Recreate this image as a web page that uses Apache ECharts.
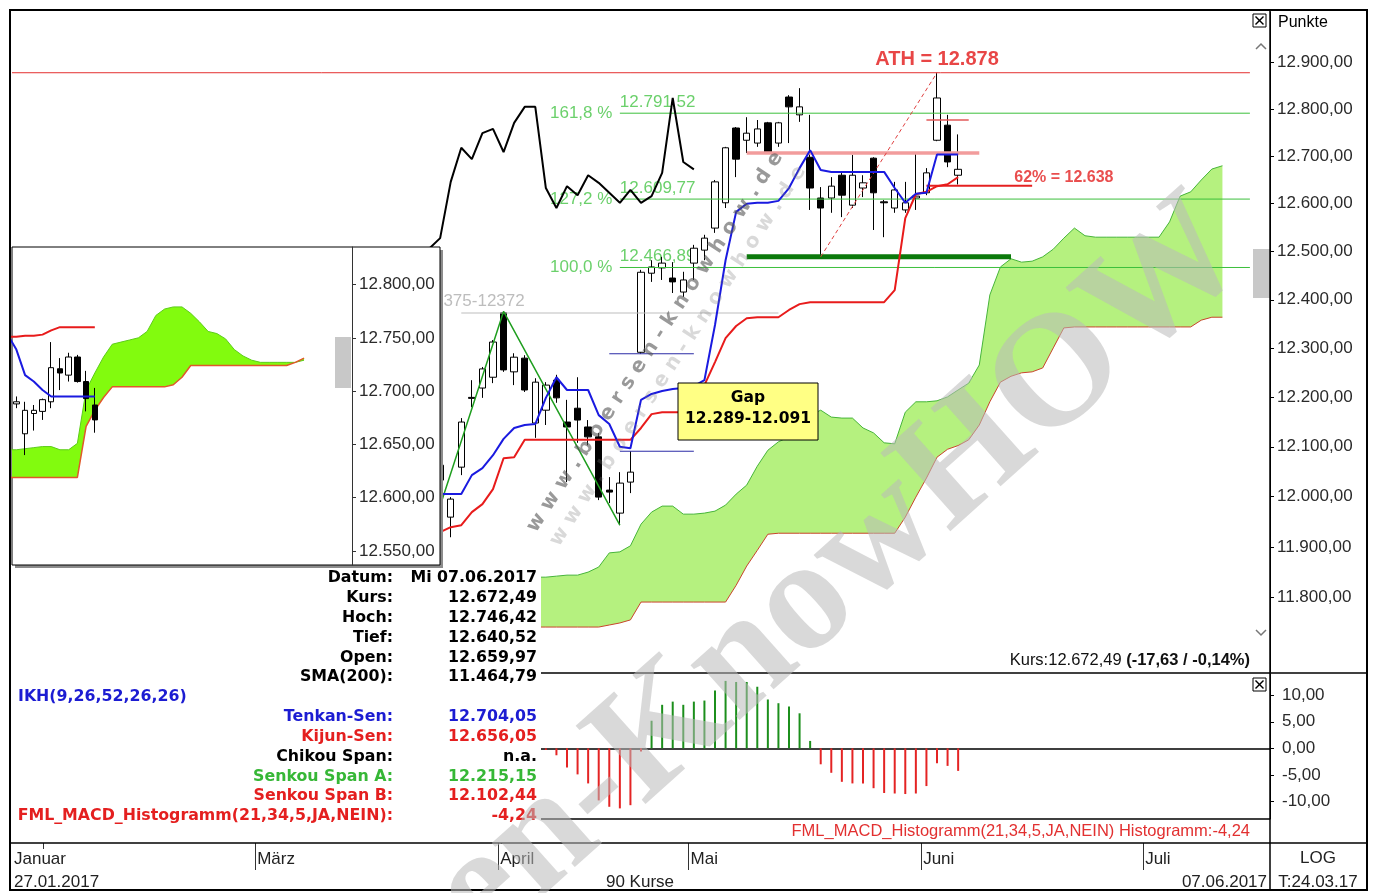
<!DOCTYPE html>
<html lang="de">
<head>
<meta charset="UTF-8">
<title>DAX – Ichimoku</title>
<style>
  html, body { margin: 0; padding: 0; background: #fff; }
  #main { width: 1373px; height: 893px; }
</style>
</head>
<body>
<div id="main"></div>
<script src="https://cdn.jsdelivr.net/npm/echarts/dist/echarts.min.js"></script>
<script>
// ---------- data: trading-day slot 0 = 27.01.2017, slot 89 = 07.06.2017 ----------
const slotCount = 119;              // 90 sessions + 26-day projection of the cloud
const candleStart = 40;
// [open, close, low, high]
const ohlc = [
  [12033, 12063, 12023, 12069], [11959, 11995, 11919, 11999], [12059, 12150, 12043, 12158],
  [12200, 12198, 12180, 12235], [12219, 12258, 12199, 12262], [12241, 12313, 12229, 12317],
  [12373, 12256, 12252, 12376], [12252, 12282, 12225, 12290], [12280, 12215, 12211, 12286],
  [12148, 12231, 12118, 12239], [12174, 12225, 12144, 12231], [12235, 12199, 12189, 12246],
  [12150, 12140, 12029, 12195], [12178, 12154, 12108, 12241], [12140, 12120, 12103, 12154],
  [12120, 11999, 11993, 12128], [12013, 12009, 11987, 12039], [11967, 12027, 11943, 12049],
  [12029, 12049, 12007, 12091], [12292, 12457, 12289, 12462], [12455, 12468, 12437, 12482],
  [12466, 12476, 12441, 12489], [12445, 12437, 12414, 12478], [12416, 12441, 12406, 12458],
  [12476, 12507, 12441, 12514], [12503, 12528, 12482, 12535], [12549, 12646, 12539, 12650],
  [12602, 12718, 12591, 12720], [12760, 12694, 12656, 12762], [12734, 12749, 12707, 12783],
  [12728, 12758, 12720, 12777], [12771, 12709, 12707, 12773], [12728, 12771, 12720, 12773],
  [12826, 12805, 12728, 12830], [12788, 12805, 12773, 12845], [12698, 12633, 12587, 12788],
  [12612, 12591, 12489, 12635], [12612, 12637, 12581, 12656], [12660, 12618, 12572, 12667],
  [12597, 12660, 12591, 12703], [12633, 12644, 12614, 12660], [12696, 12623, 12545, 12698],
  [12604, 12602, 12530, 12608], [12591, 12629, 12581, 12646], [12587, 12602, 12581, 12646],
  [12612, 12616, 12587, 12709], [12623, 12665, 12618, 12675], [12734, 12824, 12732, 12878],
  [12766, 12688, 12677, 12788], [12659.97, 12672.49, 12640.52, 12746.42]
];
const tenkan = [
  12005, 12005, 12005, 12043, 12057, 12083, 12116, 12138, 12144, 12146,
  12199, 12241, 12215, 12215, 12215, 12164, 12146, 12100, 12097, 12195,
  12207, 12213, 12217, 12219, 12223, 12235, 12348, 12482, 12583, 12600,
  12602, 12602, 12606, 12633, 12675, 12713, 12671, 12667, 12667, 12667,
  12667, 12667, 12667, 12633, 12602, 12621, 12623, 12704, 12704, 12704.05
];
const kijun = [
  11929, 11939, 11943, 11969, 11985, 12015, 12077, 12079, 12114, 12114,
  12114, 12114, 12114, 12114, 12114, 12114, 12114, 12114, 12114, 12138,
  12166, 12170, 12170, 12170, 12184, 12225, 12272, 12321, 12346, 12362,
  12364, 12364, 12364, 12379, 12391, 12395, 12395, 12395, 12395, 12395,
  12395, 12395, 12395, 12420, 12570, 12620, 12625, 12637, 12641, 12656.05
];
const chikouShift = 25;
const cloudStart = 49;
const spanA = [
  11840, 11840, 11842, 11844, 11844, 11850, 11860, 11888, 11890, 11902,
  11945, 11969, 11981, 11981, 11965, 11965, 11967, 11971, 11983, 12005,
  12023, 12061, 12093, 12110, 12120, 12148, 12164, 12174, 12160, 12158,
  12158, 12138, 12128, 12108, 12106, 12170, 12191, 12191, 12193, 12201,
  12215.15, 12229, 12266, 12410, 12468, 12485, 12478, 12480, 12489, 12505,
  12528, 12549, 12533, 12530, 12530, 12530, 12530, 12530, 12530, 12530,
  12562, 12616, 12625, 12650, 12673, 12680
];
const spanB = [
  11742, 11742, 11742, 11742, 11742, 11742, 11742, 11746, 11750, 11756,
  11791, 11791, 11791, 11791, 11791, 11791, 11791, 11791, 11791, 11824,
  11862, 11893, 11925, 11927, 11927, 11927, 11927, 11927, 11927, 11927,
  11927, 11927, 11927, 11927, 11927, 11959, 11999, 12037, 12079, 12095,
  12102.44, 12114, 12144, 12191, 12231, 12243, 12250, 12252, 12260, 12301,
  12342, 12344, 12344, 12344, 12344, 12344, 12344, 12344, 12344, 12344,
  12344, 12344, 12344, 12358, 12364, 12364
];
const macdStart = 50;
const macd = [
  -0.3, -1.3, -3.6, -4.9, -6.6, -9.8, -11.0, -11.3, -10.7, -0.6,
  5.2, 8.2, 8.8, 8.2, 8.8, 9.0, 10.9, 12.7, 12.5, 12.5,
  11.6, 9.2, 8.5, 7.9, 6.6, 1.4, -3.0, -4.6, -6.3, -6.6,
  -6.6, -7.5, -8.4, -8.5, -8.6, -8.5, -7.1, -2.8, -3.3, -4.24
];

// drawn levels: [fromSlot, toSlot, value]
const athLine = [-0.5, 116.6, 12878];
const fibLines = [[57, 116.6, 12791.52], [57, 116.6, 12609.77], [57, 116.6, 12466.89]];
const fibNames = ['161,8 %', '127,2 %', '100,0 %'];
const priorHigh = [42, 72, 12372.7];
const gapLines = [[56, 64, 12289], [57, 64, 12091]];
const supportLine = [69, 94, 12489];
const resistLine = [69, 91, 12707];
const highMark = [86, 90, 12777];
const retraceLine = [86, 96, 12638];
const zigzag = [[39, 11917], [46, 12376], [57, 11943]];
const athTrend = [[76, 12489], [87, 12878]];

const priceTicks = [11800, 11900, 12000, 12100, 12200, 12300, 12400, 12500, 12600, 12700, 12800, 12900];
const macdTicks = [-10, -5, 0, 5, 10];
const monthNames = ['Januar', 'März', 'April', 'Mai', 'Juni', 'Juli'];
const monthStart = [0, 23, 46, 64, 86, 107];
const febStart = 3;

// inset (zoomed chart, slot 0 = first candle)
const insetSlots = 39;
const insetStart = -1;
const insetCandles = [
  [12688, 12690, 12684, 12695], [12660, 12682, 12640, 12690], [12679, 12682, 12663, 12687],
  [12681, 12692, 12673, 12693], [12690, 12722, 12684, 12746], [12721, 12717, 12701, 12731],
  [12715, 12732, 12709, 12736], [12732, 12709, 12708, 12734], [12709, 12693, 12681, 12719],
  [12687, 12673, 12661, 12703]
];
const insetTenkan = [12753, 12739, 12715, 12709, 12701, 12695, 12695, 12695, 12695, 12695, 12695];
const insetKijun = [12751, 12751, 12752, 12752, 12753, 12757, 12760, 12760, 12760, 12760, 12760];
const insetSpanA = [
  12645, 12645, 12646, 12647, 12648, 12648, 12645, 12645, 12651, 12701,
  12717, 12732, 12744, 12746, 12748, 12750, 12756, 12771, 12777, 12779,
  12779, 12773, 12765, 12756, 12754, 12749, 12739, 12733, 12729, 12727,
  12727, 12727, 12727, 12727, 12729
];
const insetSpanB = [
  12619, 12619, 12619, 12619, 12619, 12619, 12619, 12619, 12619, 12667,
  12682, 12694, 12704, 12704, 12704, 12704, 12704, 12704, 12704, 12706,
  12713, 12724, 12724, 12724, 12724, 12724, 12724, 12724, 12724, 12724,
  12724, 12724, 12724, 12727, 12731
];
const insetTicks = [12550, 12600, 12650, 12700, 12750, 12800];

const infoLabels = ['Datum:', 'Kurs:', 'Hoch:', 'Tief:', 'Open:', 'SMA(200):', 'IKH(9,26,52,26,26)',
  'Tenkan-Sen:', 'Kijun-Sen:', 'Chikou Span:', 'Senkou Span A:', 'Senkou Span B:',
  'FML_MACD_Histogramm(21,34,5,JA,NEIN):'];
const infoValues = ['Mi 07.06.2017', '12.672,49', '12.746,42', '12.640,52', '12.659,97', '11.464,79', '',
  '12.704,05', '12.656,05', 'n.a.', '12.215,15', '12.102,44', '-4,24'];

// ---------- helpers ----------
const SANS = '"Liberation Sans", Arial, sans-serif';
const TAHOMA = '"DejaVu Sans", Verdana, sans-serif';
const SERIF = '"Liberation Serif", "DejaVu Serif", serif';
const RED = '#e41f1f', BLUE = '#1c1cd2', GREEN = '#36b736', FIB = '#46c446';

function de(v, digits) {
  const parts = Math.abs(v).toFixed(digits).split('.');
  const intPart = parts[0].replace(/\B(?=(\d{3})+(?!\d))/g, '.');
  return (v < 0 ? '-' : '') + intPart + (digits ? ',' + parts[1] : '');
}
function pairs(start, arr) { return arr.map((v, k) => [start + k, v]); }
function seg(l) { return [[l[0], l[2]], [l[1], l[2]]]; }
function line(xi, yi, data, color, width, extra) {
  return Object.assign({
    type: 'line', xAxisIndex: xi, yAxisIndex: yi, data: data, symbol: 'none',
    silent: true, animation: false, lineStyle: { color: color, width: width }
  }, extra || {});
}
function cloud(start, upper, lower, fill) {
  return function (params, api) {
    const pts = [];
    upper.forEach((v, k) => pts.push(api.coord([start + k, v])));
    for (let k = lower.length - 1; k >= 0; k--) pts.push(api.coord([start + k, lower[k]]));
    return { type: 'polygon', shape: { points: pts }, style: { fill: fill } };
  };
}
function candles(start, arr, xi, yi, w, z) {
  return {
    type: 'candlestick', xAxisIndex: xi, yAxisIndex: yi, barWidth: w, silent: true, z: z,
    data: arr.map((d, k) => [start + k].concat(d)),
    encode: { x: 0, y: [1, 2, 3, 4] },
    itemStyle: { color: '#fff', color0: '#000', borderColor: '#000', borderColor0: '#000', borderWidth: 1 }
  };
}
function tag(x, v, text, label) {
  return { value: [x, v], label: Object.assign({ formatter: text }, label) };
}

const catsMain = Array.from({ length: slotCount }, (_, i) => i);
const catsInset = Array.from({ length: insetSlots }, (_, i) => i);
const chikou = ohlc.map((d, k) => [candleStart + k - chikouShift, d[1]]);
const axisText = { color: '#2a2a2a', fontFamily: SANS, fontSize: 17 };

// ---------- series ----------
const series = [
  { type: 'custom', xAxisIndex: 1, yAxisIndex: 0, z: 1, clip: true, silent: true, data: [0],
    renderItem: cloud(cloudStart, spanA, spanB, '#b5f17f') },
  line(1, 0, pairs(cloudStart, spanA), '#47b53a', 1, { z: 1 }),
  line(1, 0, pairs(cloudStart, spanB), '#c9452c', 1, { z: 1 }),
  line(1, 0, seg(athLine), '#e53030', 1),
  ...fibLines.map(l => line(1, 0, seg(l), '#3cc03c', 1)),
  line(1, 0, seg(priorHigh), '#bdbdbd', 1),
  ...gapLines.map(l => line(1, 0, seg(l), '#2b2ba6', 1)),
  line(1, 0, seg(supportLine), '#0b790b', 5),
  line(1, 0, seg(resistLine), '#f29c9c', 3.5),
  line(1, 0, seg(highMark), '#e25858', 1.5),
  line(1, 0, seg(retraceLine), '#e52020', 2),
  line(1, 0, zigzag, '#1f9e1f', 1.5),
  line(1, 0, athTrend, '#e04040', 1, { lineStyle: { color: '#e04040', width: 1, type: [4, 3] } }),
  candles(candleStart, ohlc, 0, 0, 7, 2),
  line(1, 0, pairs(candleStart, kijun), '#e81b1b', 2),
  line(1, 0, pairs(candleStart, tenkan), '#1a1ae0', 2),
  line(1, 0, chikou, '#000', 2),
  { type: 'scatter', xAxisIndex: 1, yAxisIndex: 0, symbolSize: 1, z: 1, silent: true,
    itemStyle: { color: 'rgba(0,0,0,0)' },
    label: { show: true, fontFamily: SANS, fontSize: 17 },
    data: [
      tag(87, athLine[2], 'ATH = ' + de(athLine[2], 0),
        { position: 'top', distance: 3, color: '#e21818', fontWeight: 'bold', fontSize: 20 }),
      ...fibLines.map((l, k) => tag(l[0], l[2], fibNames[k], { position: 'left', distance: 7, color: FIB })),
      ...fibLines.map(l => tag(l[0], l[2], de(l[2], 2), { position: 'top', align: 'left', distance: 2, color: FIB })),
      tag(48, priorHigh[2], '12375-12372', { position: 'top', align: 'right', distance: 3, color: '#acacac' }),
      tag(99, retraceLine[2], '62% = ' + de(retraceLine[2], 0),
        { position: 'top', distance: 0, color: '#e32222', fontWeight: 'bold', fontSize: 16 })
    ] },
  { type: 'bar', xAxisIndex: 2, yAxisIndex: 1, barWidth: 2, silent: true,
    data: pairs(macdStart, macd),
    itemStyle: { color: p => (p.value[1] >= 0 ? '#1c8f1c' : '#e42424') } },
  // inset chart
  { type: 'custom', xAxisIndex: 4, yAxisIndex: 2, z: 105, clip: true, silent: true, data: [0],
    renderItem: cloud(insetStart, insetSpanA, insetSpanB, '#82fb0e') },
  line(4, 2, pairs(insetStart, insetSpanA), '#5ccc1a', 1, { z: 106 }),
  line(4, 2, pairs(insetStart, insetSpanB), '#e0582a', 1.5, { z: 106 }),
  candles(0, insetCandles, 3, 2, 6, 110),
  line(4, 2, pairs(insetStart, insetKijun), '#e81b1b', 2, { z: 111 }),
  line(4, 2, pairs(insetStart, insetTenkan), '#1a1ae0', 2, { z: 111 })
];

// ---------- static furniture ----------
const g = [];
function txt(x, y, text, style, z) {
  g.push({ type: 'text', x: x, y: y, z: z || 120, silent: true,
    style: Object.assign({ text: text, fill: '#000', fontFamily: SANS, fontSize: 17,
      align: 'left', verticalAlign: 'middle' }, style) });
}
function rect(x, y, w, h, style, z) {
  g.push({ type: 'rect', shape: { x: x, y: y, width: w, height: h }, style: style, z: z, silent: true });
}
function ln(x1, y1, x2, y2, style, z) {
  g.push({ type: 'line', shape: { x1: x1, y1: y1, x2: x2, y2: y2 },
    style: Object.assign({ stroke: '#000', lineWidth: 1 }, style), z: z || 150, silent: true });
}
function closeBox(x, y) {
  rect(x, y, 13, 13, { fill: '#fff', stroke: '#000', lineWidth: 1 }, 150);
  ln(x + 2.5, y + 2.5, x + 10.5, y + 10.5, { lineWidth: 1.5 }, 151);
  ln(x + 10.5, y + 2.5, x + 2.5, y + 10.5, { lineWidth: 1.5 }, 151);
}
function chevron(pts) {
  g.push({ type: 'polyline', shape: { points: pts }, style: { stroke: '#777', lineWidth: 1.5, fill: 'none' }, z: 150, silent: true });
}

// inset window and info panel overlays
rect(15, 250, 428, 318, { fill: '#8c8c8c' }, 99);
rect(12, 247, 428, 318, { fill: '#fff', stroke: '#000', lineWidth: 1 }, 100);
rect(335, 337, 16, 51, { fill: '#c8c8c8' }, 112);
rect(11, 568, 530, 266, { fill: '#fff' }, 98);

const infoColors = ['#000', '#000', '#000', '#000', '#000', '#000', BLUE, BLUE, RED, '#000', GREEN, RED, RED];
infoLabels.forEach((label, k) => {
  const y = 578 + 19.85 * k;
  const font = { fontFamily: TAHOMA, fontWeight: 'bold', fontSize: 15.8, fill: infoColors[k] };
  if (infoValues[k] === '') {
    txt(18, y, label, font);
  } else {
    txt(393, y, label, Object.assign({ align: 'right' }, font));
    txt(537, y, infoValues[k], Object.assign({ align: 'right' }, font));
  }
});

// gap annotation
rect(678, 383, 140, 57, { fill: '#ffff84', stroke: '#000', lineWidth: 1 }, 120);
txt(748, 398, 'Gap', { align: 'center', fontFamily: TAHOMA, fontWeight: 'bold', fontSize: 15.5 }, 121);
txt(748, 419, de(gapLines[0][2], 0) + '-' + de(gapLines[1][2], 0),
  { align: 'center', fontFamily: TAHOMA, fontWeight: 'bold', fontSize: 15.5 }, 121);

// panel texts
txt(1278, 23, 'Punkte', { fontSize: 16 });
txt(1250, 660, '{a|Kurs:12.672,49 }{b|(-17,63 / -0,14%)}', {
  align: 'right', rich: {
    a: { fontFamily: SANS, fontSize: 16.5, fill: '#111' },
    b: { fontFamily: SANS, fontSize: 16.5, fontWeight: 'bold', fill: '#111' }
  } });
txt(1250, 831, 'FML_MACD_Histogramm(21,34,5,JA,NEIN) Histogramm:-4,24', { align: 'right', fill: '#e23030', fontSize: 16.5 });
txt(14, 882, '27.01.2017', { fill: '#222' });
txt(640, 882, '90 Kurse', { align: 'center', fill: '#222' });
txt(1267, 882, '07.06.2017', { align: 'right', fill: '#222' });
txt(1318, 858, 'LOG', { align: 'center', fill: '#222' });
txt(1318, 882, 'T:24.03.17', { align: 'center', fill: '#222' });

// frame, separators, window controls
rect(1253, 249, 17, 49, { fill: '#c8c8c8' }, 140);
closeBox(1253, 14);
closeBox(1253, 678);
chevron([[1256, 49], [1261, 44], [1266, 49]]);
chevron([[1256, 630], [1261, 635], [1266, 630]]);
ln(541, 673, 1367, 673, { lineWidth: 1.5 });
ln(541, 819, 1270, 819, { lineWidth: 1.5 });
ln(10, 843, 1367, 843, { lineWidth: 1.5 });
ln(1270, 10, 1270, 890, { lineWidth: 1.5 });
rect(10, 10, 1357, 880, { fill: 'none', stroke: '#000', lineWidth: 2 }, 150);

// watermarks
g.push({ type: 'text', x: 722, y: 680, rotation: 0.73, z: 200, silent: true,
  style: { text: 'Börsen-KnowHOW', fontFamily: SERIF, fontWeight: 'bold', fontSize: 160,
    fill: 'rgba(185,185,185,0.55)', align: 'center', verticalAlign: 'middle' } });
g.push({ type: 'text', x: 655, y: 342, rotation: 0.99, z: 200, silent: true,
  style: { text: 'w w w . b o e r s e n - k n o w h o w . d e', fontFamily: TAHOMA, fontWeight: 'bold',
    fontSize: 20, fill: 'rgba(85,85,85,0.6)', align: 'center', verticalAlign: 'middle' } });
g.push({ type: 'text', x: 678, y: 356, rotation: 0.99, z: 200, silent: true,
  style: { text: 'w w w . b o e r s e n - k n o w h o w . d e', fontFamily: TAHOMA, fontWeight: 'bold',
    fontSize: 20, fill: 'rgba(120,120,120,0.28)', align: 'center', verticalAlign: 'middle' } });

// ---------- option ----------
const fixedLine = (color) => ({ show: true, onZero: false, lineStyle: { color: color } });
const option = {
  animation: false,
  backgroundColor: '#fff',
  grid: [
    { left: 12, top: 12, width: 1258, height: 660 },
    { left: 12, top: 674, width: 1258, height: 145 },
    { left: 12, top: 247, width: 340, height: 318 },
    { left: 12, top: 843, width: 1258, height: 27 },
    { left: 12, top: 843, width: 1258, height: 27 }
  ],
  xAxis: [
    { gridIndex: 0, type: 'category', data: catsMain, show: false },
    { gridIndex: 0, type: 'value', min: -0.5, max: slotCount - 0.5, show: false },
    { gridIndex: 1, type: 'category', data: catsMain,
      axisLine: { onZero: true, lineStyle: { color: '#000', width: 1.5 } },
      axisTick: { show: false }, axisLabel: { show: false } },
    { gridIndex: 2, type: 'category', data: catsInset, show: false },
    { gridIndex: 2, type: 'value', min: -0.5, max: insetSlots - 0.5, show: false },
    // month row: separators and month names
    { gridIndex: 3, type: 'value', position: 'top', min: -0.5, max: slotCount - 0.5,
      axisLine: { show: false, onZero: false }, splitLine: { show: false },
      axisTick: { customValues: monthStart.slice(1).map(m => m - 0.5), inside: true, length: 27,
        lineStyle: { color: '#333' } },
      axisLabel: Object.assign({
        customValues: monthStart.map(m => m - 0.5), inside: true, margin: 8, align: 'left',
        padding: [0, 0, 0, 2], showMinLabel: true,
        formatter: v => monthNames[monthStart.indexOf(Math.round(v + 0.5))]
      }, axisText, { color: '#222' }) },
    // short unlabelled tick at the start of February
    { gridIndex: 4, type: 'value', position: 'top', min: -0.5, max: slotCount - 0.5,
      axisLine: { show: false, onZero: false }, splitLine: { show: false }, axisLabel: { show: false },
      axisTick: { customValues: [febStart - 0.5], inside: true, length: 6, lineStyle: { color: '#333' } } }
  ],
  yAxis: [
    { gridIndex: 0, type: 'log', logBase: 10, position: 'right', min: 11654.4, max: 13009,
      splitLine: { show: false }, axisLine: fixedLine('#000'),
      axisTick: { show: true, customValues: priceTicks, length: 4, lineStyle: { color: '#000' } },
      axisLabel: Object.assign({ customValues: priceTicks, formatter: v => de(v, 2), margin: 7,
        padding: [0, 0, 5, 0] }, axisText) },
    { gridIndex: 1, type: 'value', position: 'right', min: -13.3, max: 14.0,
      splitLine: { show: false }, axisLine: fixedLine('#000'),
      axisTick: { show: true, customValues: macdTicks, length: 4, lineStyle: { color: '#000' } },
      axisLabel: Object.assign({ customValues: macdTicks, formatter: v => de(v, 2), margin: 12,
        padding: [0, 0, 5, 0] }, axisText) },
    { gridIndex: 2, type: 'value', position: 'right', min: 12536.9, max: 12835.2, z: 110,
      splitLine: { show: false }, axisLine: fixedLine('#333'),
      axisTick: { show: true, customValues: insetTicks, length: 4, lineStyle: { color: '#333' } },
      axisLabel: Object.assign({ customValues: insetTicks, formatter: v => de(v, 2), margin: 7,
        padding: [0, 0, 5, 0] }, axisText) },
    { gridIndex: 3, type: 'value', show: false },
    { gridIndex: 4, type: 'value', show: false }
  ],
  series: series,
  graphic: { elements: g }
};

const chart = echarts.init(document.getElementById('main'));
chart.setOption(option);
</script>
</body>
</html>
